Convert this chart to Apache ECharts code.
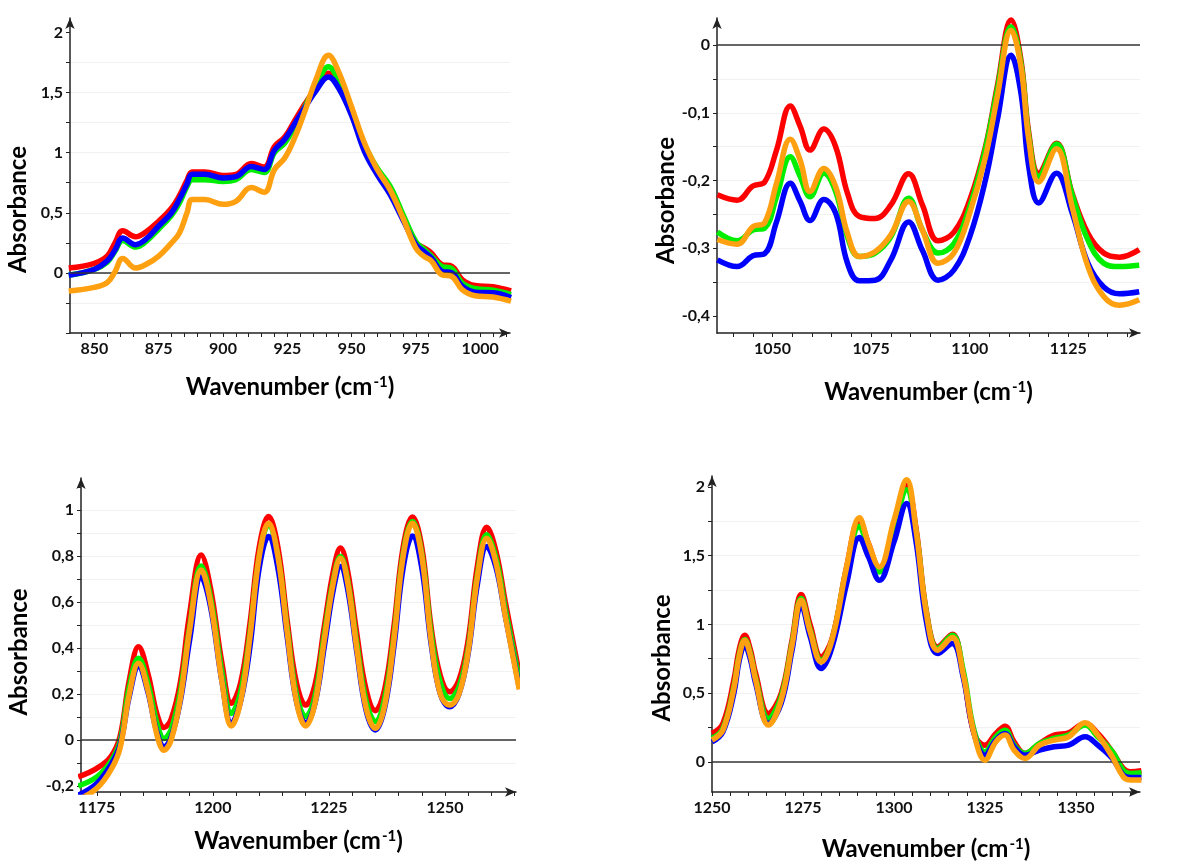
<!DOCTYPE html>
<html>
<head>
<meta charset="utf-8">
<title>FTIR absorbance spectra</title>
<script src="https://cdn.jsdelivr.net/npm/echarts@6/dist/echarts.min.js"></script>
<style>
  html, body { margin: 0; background: #fff; }
  #chart { width: 1195px; height: 863px; }
</style>
</head>
<body>
<div id="chart"></div>
<script>
// panel 1: 840-1012 cm-1
const wave1 = [840, 850, 855, 858, 861, 866, 870, 875, 880, 883, 886, 888, 893, 900, 905, 911, 916, 920, 924, 928, 932, 936, 941, 945, 950, 955, 960, 965, 970, 975, 978, 981, 985, 989, 993, 998, 1005, 1012]
const red1 = [0.04, 0.08, 0.14, 0.25, 0.35, 0.30, 0.34, 0.43, 0.54, 0.64, 0.77, 0.84, 0.84, 0.81, 0.82, 0.91, 0.88, 1.05, 1.13, 1.27, 1.41, 1.535, 1.66, 1.58, 1.34, 1.05, 0.845, 0.69, 0.47, 0.25, 0.21, 0.165, 0.07, 0.055, -0.055, -0.105, -0.115, -0.15]
const green1 = [-0.02, 0.03, 0.09, 0.18, 0.27, 0.215, 0.26, 0.365, 0.48, 0.58, 0.72, 0.775, 0.775, 0.76, 0.775, 0.86, 0.835, 1.0, 1.08, 1.22, 1.39, 1.55, 1.715, 1.60, 1.355, 1.07, 0.87, 0.72, 0.485, 0.26, 0.20, 0.14, 0.055, 0.035, -0.085, -0.13, -0.145, -0.18]
const blue1 = [-0.02, 0.03, 0.10, 0.19, 0.29, 0.235, 0.28, 0.39, 0.50, 0.61, 0.74, 0.82, 0.82, 0.79, 0.80, 0.885, 0.86, 1.02, 1.11, 1.245, 1.38, 1.51, 1.63, 1.535, 1.31, 1.01, 0.815, 0.65, 0.44, 0.235, 0.18, 0.125, 0.015, 0.0, -0.11, -0.16, -0.165, -0.205]
const orange1 = [-0.15, -0.12, -0.08, 0.01, 0.12, 0.04, 0.07, 0.14, 0.25, 0.33, 0.50, 0.61, 0.61, 0.57, 0.595, 0.71, 0.67, 0.86, 0.955, 1.13, 1.355, 1.60, 1.81, 1.67, 1.38, 1.08, 0.86, 0.69, 0.455, 0.205, 0.14, 0.10, -0.015, -0.03, -0.14, -0.19, -0.20, -0.235]

// panel 2: 1036-1143 cm-1
const wave2 = [1036, 1041, 1045, 1048, 1051, 1054.5, 1057, 1059.5, 1063, 1066, 1069, 1072, 1076, 1080, 1084.5, 1088, 1092, 1096, 1100, 1104, 1107, 1110.5, 1113, 1115, 1117.5, 1122, 1126, 1130, 1134, 1138, 1143]
const red2 = [-0.221, -0.229, -0.208, -0.202, -0.155, -0.09, -0.12, -0.155, -0.124, -0.15, -0.219, -0.253, -0.256, -0.236, -0.19, -0.236, -0.289, -0.276, -0.229, -0.15, -0.061, 0.037, -0.022, -0.13, -0.189, -0.145, -0.219, -0.278, -0.307, -0.313, -0.302]
const green2 = [-0.276, -0.289, -0.273, -0.27, -0.224, -0.165, -0.194, -0.224, -0.189, -0.216, -0.283, -0.312, -0.307, -0.283, -0.226, -0.273, -0.307, -0.293, -0.239, -0.153, -0.066, 0.027, -0.027, -0.135, -0.194, -0.146, -0.221, -0.288, -0.322, -0.327, -0.325]
const blue2 = [-0.317, -0.327, -0.311, -0.308, -0.261, -0.204, -0.231, -0.259, -0.228, -0.248, -0.322, -0.348, -0.347, -0.317, -0.261, -0.303, -0.347, -0.332, -0.283, -0.199, -0.111, -0.015, -0.071, -0.18, -0.233, -0.189, -0.248, -0.322, -0.357, -0.367, -0.364]
const orange2 = [-0.287, -0.294, -0.268, -0.262, -0.204, -0.139, -0.17, -0.216, -0.182, -0.209, -0.278, -0.312, -0.305, -0.28, -0.231, -0.273, -0.322, -0.307, -0.248, -0.165, -0.076, 0.022, -0.032, -0.14, -0.202, -0.153, -0.239, -0.327, -0.371, -0.384, -0.376]

// panel 3: 1171-1266 cm-1
const wave3 = [1171, 1175, 1178, 1180, 1182, 1184, 1186, 1188, 1189.5, 1191, 1193, 1195, 1197.5, 1199.5, 1202, 1204, 1206, 1208, 1210, 1212, 1214, 1216, 1218, 1220, 1222, 1224, 1226, 1227.5, 1229, 1231, 1233, 1235, 1237, 1239, 1241, 1243, 1245, 1247, 1249, 1251, 1253, 1255, 1257, 1259, 1261, 1263, 1266]
const red3 = [-0.16, -0.123, -0.073, 0.015, 0.26, 0.406, 0.29, 0.11, 0.055, 0.09, 0.25, 0.55, 0.805, 0.66, 0.33, 0.16, 0.25, 0.508, 0.84, 0.972, 0.84, 0.522, 0.25, 0.152, 0.24, 0.493, 0.74, 0.835, 0.74, 0.464, 0.22, 0.128, 0.22, 0.493, 0.84, 0.97, 0.84, 0.493, 0.28, 0.21, 0.26, 0.435, 0.76, 0.926, 0.82, 0.6, 0.29]
const green3 = [-0.2, -0.16, -0.094, -0.007, 0.23, 0.356, 0.247, 0.07, 0.007, 0.045, 0.21, 0.49, 0.757, 0.62, 0.29, 0.116, 0.21, 0.464, 0.8, 0.936, 0.8, 0.486, 0.2, 0.102, 0.19, 0.457, 0.7, 0.798, 0.7, 0.421, 0.17, 0.08, 0.18, 0.45, 0.81, 0.951, 0.81, 0.464, 0.25, 0.181, 0.23, 0.4, 0.72, 0.893, 0.79, 0.57, 0.26]
const blue3 = [-0.24, -0.189, -0.109, -0.022, 0.19, 0.32, 0.21, 0.03, -0.029, 0.01, 0.17, 0.435, 0.71, 0.58, 0.25, 0.073, 0.17, 0.406, 0.75, 0.885, 0.75, 0.45, 0.17, 0.073, 0.16, 0.406, 0.66, 0.755, 0.66, 0.385, 0.13, 0.044, 0.14, 0.406, 0.75, 0.888, 0.75, 0.421, 0.2, 0.145, 0.2, 0.377, 0.68, 0.842, 0.75, 0.54, 0.23]
const orange3 = [-0.26, -0.21, -0.131, -0.036, 0.2, 0.334, 0.218, 0.02, -0.044, 0.0, 0.18, 0.479, 0.74, 0.6, 0.25, 0.061, 0.17, 0.45, 0.8, 0.943, 0.8, 0.472, 0.17, 0.061, 0.16, 0.435, 0.69, 0.791, 0.69, 0.4, 0.14, 0.051, 0.15, 0.435, 0.8, 0.943, 0.8, 0.435, 0.2, 0.152, 0.2, 0.385, 0.71, 0.878, 0.77, 0.54, 0.22]

// panel 4: 1250-1368 cm-1
const wave4 = [1250, 1253, 1256, 1257.5, 1259, 1260.5, 1262, 1265.5, 1269, 1272, 1274.5, 1277, 1280, 1283, 1287, 1290.5, 1293, 1296, 1300, 1303.5, 1306, 1309, 1312, 1316, 1319, 1322, 1325, 1328, 1330.5, 1333, 1336, 1340, 1344, 1348, 1352.5, 1356, 1360, 1363, 1365, 1368]
const red4 = [0.206, 0.279, 0.594, 0.82, 0.921, 0.82, 0.642, 0.352, 0.497, 0.885, 1.217, 0.994, 0.764, 0.897, 1.418, 1.758, 1.588, 1.406, 1.709, 2.012, 1.709, 1.079, 0.836, 0.928, 0.642, 0.206, 0.121, 0.206, 0.259, 0.145, 0.061, 0.133, 0.194, 0.211, 0.279, 0.206, 0.073, -0.048, -0.073, -0.065]
const green4 = [0.17, 0.242, 0.545, 0.78, 0.89, 0.79, 0.606, 0.315, 0.473, 0.861, 1.188, 0.958, 0.739, 0.885, 1.406, 1.714, 1.552, 1.382, 1.697, 1.98, 1.685, 1.067, 0.824, 0.921, 0.667, 0.23, 0.073, 0.182, 0.23, 0.121, 0.061, 0.133, 0.17, 0.194, 0.267, 0.182, 0.073, -0.061, -0.085, -0.08]
const blue4 = [0.145, 0.218, 0.497, 0.74, 0.848, 0.75, 0.57, 0.279, 0.424, 0.812, 1.139, 0.909, 0.679, 0.836, 1.297, 1.632, 1.491, 1.321, 1.6, 1.879, 1.612, 1.006, 0.788, 0.861, 0.618, 0.206, 0.048, 0.158, 0.206, 0.109, 0.048, 0.085, 0.109, 0.121, 0.182, 0.121, 0.024, -0.097, -0.114, -0.114]
const orange4 = [0.158, 0.23, 0.533, 0.77, 0.885, 0.78, 0.594, 0.267, 0.448, 0.848, 1.176, 0.945, 0.727, 0.89, 1.418, 1.777, 1.588, 1.418, 1.758, 2.053, 1.697, 1.067, 0.812, 0.904, 0.642, 0.206, 0.012, 0.145, 0.194, 0.085, 0.024, 0.121, 0.158, 0.182, 0.284, 0.194, 0.036, -0.109, -0.133, -0.133]

// tick labels
const xLabels1 = [850, 875, 900, 925, 950, 975, 1000]
const yLabels1 = [0, 0.5, 1, 1.5, 2]
const xLabels2 = [1050, 1075, 1100, 1125]
const yLabels2 = [-0.4, -0.3, -0.2, -0.1, 0]
const xLabels3 = [1175, 1200, 1225, 1250]
const yLabels3 = [-0.2, 0, 0.2, 0.4, 0.6, 0.8, 1]
const xLabels4 = [1250, 1275, 1300, 1325, 1350]
const yLabels4 = [0, 0.5, 1, 1.5, 2]

const seriesNames = ['Red', 'Green', 'Blue', 'Orange']
const colors = ['#ff0000', '#00ee00', '#0000ff', '#ffa010']

const font = 'Lato, "Open Sans", sans-serif'
const ink = '#222'

function steps(lo, hi, step) {
  const out = []
  for (let v = Math.ceil(lo / step - 1e-6) * step; v <= hi + 1e-6; v += step) out.push(+v.toFixed(4))
  return out
}

const comma = (v) => String(+v.toFixed(3)).replace('.', ',')

const panels = [
  { grid: { left: 70, top: 18, width: 440, height: 315 }, x: [840.5, 1011.6], y: [-0.5, 2.12], xl: xLabels1, yl: yLabels1, ys: 0.25, split: 5,
    yGap: 40, yShift: 34, xGap: 42, wave: wave1, lines: [red1, green1, blue1, orange1] },
  { grid: { left: 717, top: 18, width: 423, height: 315 }, x: [1035.9, 1143.2], y: [-0.425, 0.04], xl: xLabels2, yl: yLabels2, ys: 0.05, split: 5,
    yGap: 38, yShift: 25, xGap: 47, wave: wave2, lines: [red2, green2, blue2, orange2] },
  { grid: { left: 81, top: 478, width: 435, height: 314 }, x: [1171.6, 1265.3], y: [-0.226, 1.14], xl: xLabels3, yl: yLabels3, ys: 0.1, split: 7,
    yGap: 50, yShift: 17, xGap: 37, wave: wave3, lines: [red3, green3, blue3, orange3] },
  { grid: { left: 712, top: 476, width: 428, height: 316 }, x: [1250, 1367.6], y: [-0.22, 2.08], xl: xLabels4, yl: yLabels4, ys: 0.25, split: 5,
    yGap: 38, yShift: 24, xGap: 45, wave: wave4, lines: [red4, green4, blue4, orange4] },
]

const axisLine = {
  onZero: false,
  symbol: ['none', 'arrow'],
  symbolSize: [7, 11],
  lineStyle: { color: ink, width: 1.5 },
}
const labelStyle = { color: '#111', fontFamily: font, fontWeight: 'bold', fontSize: 16 }
const titleStyle = { color: '#000', fontFamily: font, fontWeight: 'bold', fontSize: 24 }

const option = {
  backgroundColor: '#fff',
  animation: false,
  grid: panels.map((p) => ({ ...p.grid, containLabel: false })),
  xAxis: panels.map((p, i) => ({
    type: 'value',
    gridIndex: i,
    min: p.x[0],
    max: p.x[1],
    name: 'Wavenumber (cm{sup|-1})',
    nameLocation: 'middle',
    nameGap: p.xGap,
    nameTextStyle: {
      ...titleStyle,
      rich: { sup: { ...titleStyle, fontSize: 15, verticalAlign: 'top', padding: [0, 0, 0, 1] } },
    },
    axisLine,
    axisTick: { customValues: steps(p.x[0], p.x[1], 5), length: 4, lineStyle: { color: ink } },
    axisLabel: { ...labelStyle, customValues: p.xl, margin: 8, formatter: (v) => String(v) },
    splitLine: { show: false },
  })),
  yAxis: panels.map((p, i) => ({
    type: 'value',
    gridIndex: i,
    min: p.y[0],
    max: p.y[1],
    splitNumber: p.split,
    name: 'Absorbance',
    nameLocation: 'middle',
    nameGap: p.yGap,
    nameTextStyle: { ...titleStyle, padding: [0, p.yShift * 2, 0, 0] },
    axisLine,
    axisTick: { customValues: steps(p.y[0], p.y[1], p.ys), length: 4, lineStyle: { color: ink } },
    axisLabel: { ...labelStyle, customValues: p.yl, margin: 7, formatter: comma },
    splitLine: { show: true, showMinLine: false, showMaxLine: false, lineStyle: { color: '#f1f1f1', width: 1 } },
  })),
  series: panels.flatMap((p, i) =>
    p.lines.map((vals, k) => ({
      name: seriesNames[k],
      type: 'line',
      xAxisIndex: i,
      yAxisIndex: i,
      data: p.wave.map((w, j) => [w, vals[j]]),
      smooth: 0.4,
      showSymbol: false,
      clip: true,
      lineStyle: { color: colors[k], width: 5.5 },
      itemStyle: { color: colors[k] },
      z: 2 + k,
      markLine: k === 0 ? {
        silent: true,
        symbol: 'none',
        label: { show: false },
        lineStyle: { color: '#333', width: 1.5, type: 'solid' },
        data: [{ yAxis: 0 }],
      } : undefined,
    }))
  ),
}

const chart = echarts.init(document.getElementById('chart'))
chart.setOption(option)
</script>
</body>
</html>
